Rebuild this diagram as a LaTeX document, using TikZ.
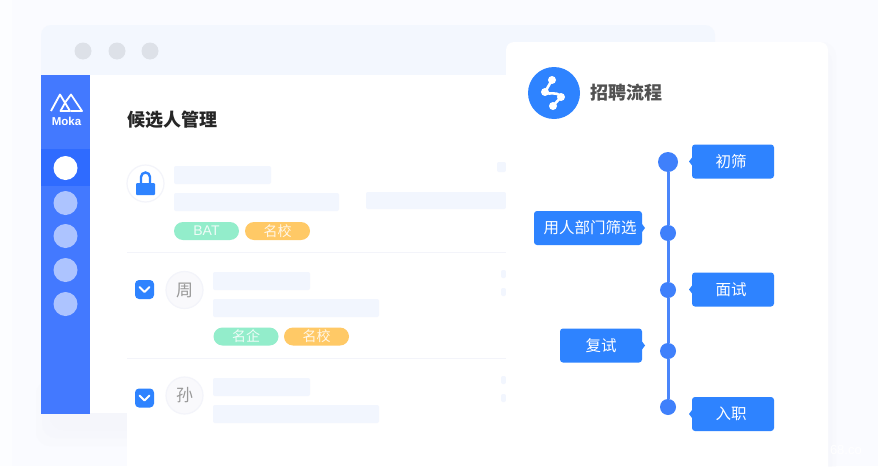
\documentclass[tikz,border=0pt]{standalone}
\usepackage{fontspec}
\setmainfont{Noto Sans CJK SC}
\setsansfont{Liberation Sans}
\usetikzlibrary{positioning,calc,shadows}
\definecolor{pagebg}{HTML}{FAFBFF}
\definecolor{softbg}{HTML}{F4F5FA}
\definecolor{winbar}{HTML}{F3F7FE}
\definecolor{winbtn}{HTML}{DDE1E8}
\definecolor{side}{HTML}{4379FF}
\definecolor{sideon}{HTML}{2F6BFF}
\definecolor{sidedot}{HTML}{ADC4FF}
\definecolor{skel}{HTML}{F2F6FE}
\definecolor{rule}{HTML}{F3F4FA}
\definecolor{tagg}{HTML}{93EDCB}
\definecolor{tago}{HTML}{FFC966}
\definecolor{flow}{HTML}{2E83FF}
\definecolor{spine}{HTML}{4A86FB}
\definecolor{dotc}{HTML}{3F80FB}
\definecolor{avatar}{HTML}{F9F9FC}
\begin{document}
\begin{tikzpicture}[x=1pt,y=-1pt]
                    \tikzstyle{every node}=[inner sep=0,outer sep=0]
                    \tikzstyle{sdot}=[fill=sidedot,circle,minimum size=24]
                    \tikzstyle{pill}=[rounded corners=9,minimum width=65,minimum height=18,text=white,font=\fontsize{14}{14}\selectfont]
                    \tikzstyle{avt}=[circle,fill=avatar,draw=rule,line width=1.2,minimum size=37,text=black!40,font=\fontsize{17}{17}\selectfont]
                    \tikzstyle{chk}=[rounded corners=4,fill=flow,minimum size=19]
                    \tikzstyle{flowbox}=[fill=flow,rounded corners=3,minimum height=34,text=white,font=\fontsize{15.5}{15.5}\selectfont]
                    \tikzstyle{fdot}=[fill=dotc,circle,minimum size=16]
                    \tikzstyle{skelbar}=[fill=skel,rounded corners=2]
                    \tikzstyle{tip}=[fill=flow]
                    \tikzstyle{haze}=[softbg,opacity=.3,rounded corners=14]
                    {
                        \path[use as bounding box,clip] (0,0) rectangle (878,466);
                        % page and window
                        \fill[pagebg] (0,0) rectangle (878,466);
                        \fill[white,opacity=.5] (0,0) rectangle (12,466);
                        \fill[haze] (36,380) rectangle (140,446);
                        \fill[haze] (42,380) rectangle (140,438);
                        \fill[haze] (50,380) rectangle (140,430);
                        \fill[haze] (800,42) rectangle (836,480);
                        \fill[haze] (800,48) rectangle (832,480);
                        \fill[winbar,rounded corners=10] (41,25) rectangle (715,90);
                        \fill[white] (90,75) rectangle (506,413);
                        \fill[white] (127,413) rectangle (506,466);
                        \fill[winbtn] (83,51) circle (8.5) (117,51) circle (8.5) (150,51) circle (8.5);

                        % side bar
                        \fill[side] (41,75) rectangle (90,414);
                        \fill[sideon] (41,149) rectangle (90,186);
                        \draw[white,line width=1.8,line join=round]
                            (51,111) -- (60,94.5) -- (70,111) -- (60.5,111) -- (65.5,102)
                            (65.5,102) -- (71,94.5) -- (82,111) -- (71,111) ;
                        \node[text=white,font=\sffamily\bfseries\fontsize{11.5}{11.5}\selectfont] (logo) at (66.5,121) {Moka};
                        \node[sdot,fill=white] (n1) at (65.5,168) {};
                        \node[sdot] (n2) at (65.5,203) {};
                        \node[sdot] (n3) at (65.5,236) {};
                        \node[sdot] (n4) at (65.5,270) {};
                        \node[sdot] (n5) at (65.5,304) {};

                        % list
                        \node[anchor=west,text=black!85,font=\bfseries\fontsize{18}{18}\selectfont] (title) at (127,120) {候选人管理};
                        \draw[rule,line width=1] (127,252) -- (506,252) (127,358) -- (506,358);

                        \node[avt,fill=white] (lock) at (145.5,183.5) {};
                        \fill[flow,rounded corners=1] (136,183) rectangle (155,195);
                        \draw[flow,line width=2.4] (141,184) -- (141,177) arc (180:360:4.5) -- (150,184);

                        \fill[skelbar] (174,166) rectangle (271,184);
                        \fill[skelbar] (174,193) rectangle (339,211);
                        \fill[skelbar] (366,192) rectangle (506,209);
                        \fill[skelbar] (497,162) rectangle (506,172);
                        \fill[skelbar] (213,272) rectangle (310,290);
                        \fill[skelbar] (213,299) rectangle (379,317);
                        \fill[skelbar] (501,270) rectangle (506,278);
                        \fill[skelbar] (501,288) rectangle (506,296);
                        \fill[skelbar] (213,378) rectangle (310,396);
                        \fill[skelbar] (213,405) rectangle (379,423);
                        \fill[skelbar] (501,376) rectangle (506,384);
                        \fill[skelbar] (501,394) rectangle (506,402);

                        \node[pill,fill=tagg,text=white!85!tagg,font=\sffamily\fontsize{14}{14}\selectfont] (t1) at (206.5,231) {BAT};
                        \node[pill,fill=tago,text=white!85!tago] (t2) at (277.5,231) {名校};
                        \node[pill,fill=tagg,text=white!85!tagg] (t3) at (246,336.5) {名企};
                        \node[pill,fill=tago,text=white!85!tago] (t4) at (316.5,336.5) {名校};

                        \node[chk] (c1) at (144.5,289.5) {};
                        \node[chk] (c2) at (144.5,398) {};
                        \draw[white,line width=1.8,line cap=round,line join=round]
                            (139.5,287) -- (144.5,292) -- (149.5,287)
                            (139.5,395.5) -- (144.5,400.5) -- (149.5,395.5);
                        \node[avt] (a1) at (184.5,290) {周};
                        \node[avt] (a2) at (184.5,395.5) {孙};

                        % process card
                        \fill[white,rounded corners=8] (506,42) rectangle (828,480);
                        \fill[flow] (554,93) circle (26);
                        \draw[white,line width=2.6,line join=round] (552,80) -- (545,92) .. controls (550,96) and (556,90) .. (561,97) -- (553,106);
                        \fill[white] (552,80) circle (4) (545,92) circle (4) (561,97) circle (4) (553,106) circle (4);
                        \node[anchor=west,text=black!68,font=\bfseries\fontsize{18}{18}\selectfont] (head) at (590,93) {招聘流程};

                        \node[fdot,minimum size=20] (s1) at (668,162) {};
                        \node[fdot] (s2) at (668,233) {};
                        \node[fdot] (s3) at (668,290) {};
                        \node[fdot] (s4) at (668,351) {};
                        \node[fdot] (s5) at (668,407) {};
                        \draw[spine,line width=3] (s1) -- (s2) -- (s3) -- (s4) -- (s5);

                        \node[flowbox,minimum width=82] (b1) at (733,161.5) {\hspace*{-4pt}初筛};
                        \node[flowbox,minimum width=108] (b2) at (588,228) {\hspace*{4pt}用人部门筛选};
                        \node[flowbox,minimum width=82] (b3) at (733,289.5) {\hspace*{-4pt}面试};
                        \node[flowbox,minimum width=82] (b4) at (601,345.5) {复试};
                        \node[flowbox,minimum width=82] (b5) at (733,414) {\hspace*{-4pt}入职};

                        \fill[tip] (b1.west) ++(0,-4) -- ++(-3,4) -- ++(3,4) -- cycle;
                        \fill[tip] (b2.east) ++(0,-4) -- ++(3,4) -- ++(-3,4) -- cycle;
                        \fill[tip] (b3.west) ++(0,-4) -- ++(-3,4) -- ++(3,4) -- cycle;
                        \fill[tip] (b4.east) ++(0,-4) -- ++(3,4) -- ++(-3,4) -- cycle;
                        \fill[tip] (b5.west) ++(0,-4) -- ++(-3,4) -- ++(3,4) -- cycle;

                        \node[anchor=west,text=white,font=\sffamily\fontsize{13}{13}\selectfont] (mark) at (830,450) {68.co};
                    }
                \end{tikzpicture}
\end{document}
